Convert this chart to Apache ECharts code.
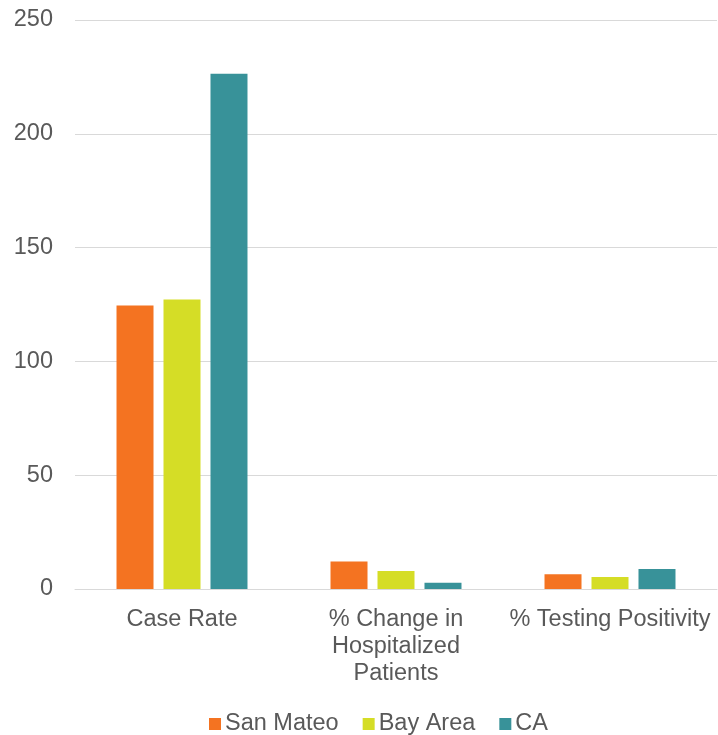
<!DOCTYPE html>
<html>
<head>
<meta charset="utf-8">
<script src="https://cdn.jsdelivr.net/npm/echarts@6/dist/echarts.min.js"></script>
<style>html,body{margin:0;padding:0;background:#fff}#c{width:718px;height:735px}</style>
</head>
<body>
<div id="c"></div>
<script>
const categories = ['Case Rate', '% Change in\nHospitalized\nPatients', '% Testing Positivity'];
const sanMateo = [124.6, 12.1, 6.5];
const bayArea = [127.2, 7.9, 5.3];
const ca = [226.4, 2.8, 8.8];
const yTicks = { min: 0, max: 250, interval: 50 };

const chart = echarts.init(document.getElementById('c'));
const font = 'Liberation Sans, Arial, sans-serif';
chart.setOption({
  animation: false,
  color: ['#F47321', '#D5DD26', '#389299'],
  grid: { left: 75, right: 1, top: 20, bottom: 146 },
  legend: {
    top: 707, left: 204, itemWidth: 12, itemHeight: 12, itemGap: 24,
    icon: 'rect',
    textStyle: { fontFamily: font, fontSize: 23.5, color: '#595959', padding: [0, 0, 6, -1] },
    data: ['San Mateo', 'Bay Area', 'CA']
  },
  xAxis: {
    type: 'category', data: categories,
    axisLine: { lineStyle: { color: '#d9d9d9', width: 1 } },
    axisTick: { show: false },
    axisLabel: { interval: 0, fontFamily: font, fontSize: 23.5, color: '#595959', lineHeight: 27, margin: 17 }
  },
  yAxis: {
    type: 'value', min: yTicks.min, max: yTicks.max, interval: yTicks.interval,
    axisLine: { show: false }, axisTick: { show: false },
    splitLine: { lineStyle: { color: '#d9d9d9', width: 1 } },
    axisLabel: { fontFamily: font, fontSize: 23.5, color: '#595959', margin: 22 }
  },
  series: [
    { name: 'San Mateo', type: 'bar', data: sanMateo, barWidth: 37, barGap: '27%' },
    { name: 'Bay Area', type: 'bar', data: bayArea, barWidth: 37, barGap: '27%' },
    { name: 'CA', type: 'bar', data: ca, barWidth: 37, barGap: '27%' }
  ]
});
</script>
</body>
</html>
